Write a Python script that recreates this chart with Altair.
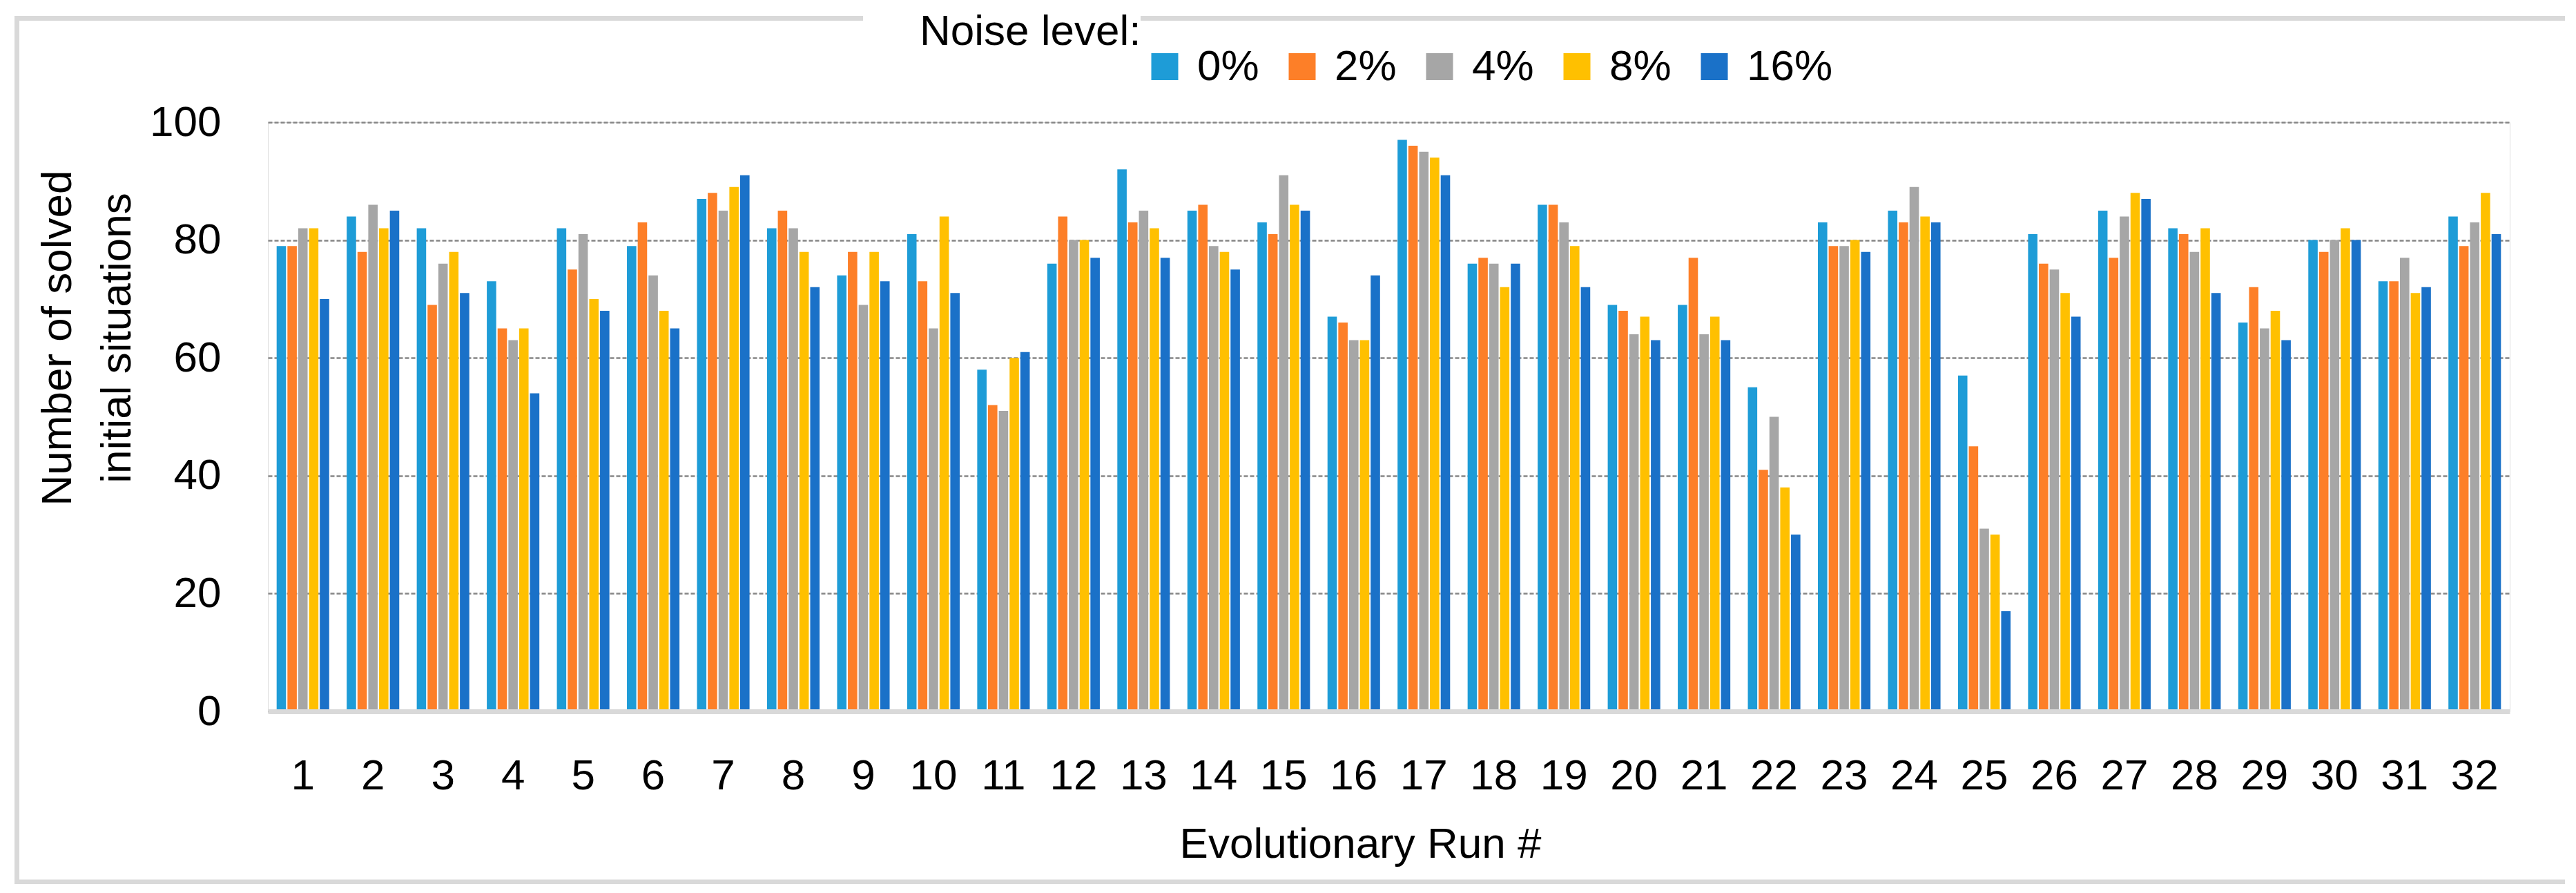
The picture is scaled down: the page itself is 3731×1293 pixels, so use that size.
import altair as alt
import pandas as pd

runs = list(range(1, 33))
noise_levels = ["0%", "2%", "4%", "8%", "16%"]
n0 = [79, 84, 82, 73, 82, 79, 87, 82, 74, 81, 58, 76, 92, 85, 83, 67, 97, 76, 86, 69, 69, 55, 83, 85, 57, 81, 85, 82, 66, 80, 73, 84]
n2 = [79, 78, 69, 65, 75, 83, 88, 85, 78, 73, 52, 84, 83, 86, 81, 66, 96, 77, 86, 68, 77, 41, 79, 83, 45, 76, 77, 81, 72, 78, 73, 79]
n4 = [82, 86, 76, 63, 81, 74, 85, 82, 69, 65, 51, 80, 85, 79, 91, 63, 95, 76, 83, 64, 64, 50, 79, 89, 31, 75, 84, 78, 65, 80, 77, 83]
n8 = [82, 82, 78, 65, 70, 68, 89, 78, 78, 84, 60, 80, 82, 78, 86, 63, 94, 72, 79, 67, 67, 38, 80, 84, 30, 71, 88, 82, 68, 82, 71, 88]
n16 = [70, 85, 71, 54, 68, 65, 91, 72, 73, 71, 61, 77, 77, 75, 85, 74, 91, 76, 72, 63, 63, 30, 78, 83, 17, 67, 87, 71, 63, 80, 72, 81]
colors = ["#1E9CD7", "#FD7F28", "#A6A6A6", "#FFC000", "#1A71C8"]
legend_title = "Noise level:"

series = [n0, n2, n4, n8, n16]
rows = []
for lvl, vals in zip(noise_levels, series):
    for r, v in zip(runs, vals):
        rows.append({"run": r, "noise": lvl, "value": v})
df = pd.DataFrame(rows)

FONT = "Liberation Sans, Arial, sans-serif"
FS = 62
W, H = 3247, 853

bars = alt.Chart(df).mark_bar().encode(
    x=alt.X("run:O", title="Evolutionary Run #",
            scale=alt.Scale(paddingInner=0.25, paddingOuter=0.125),
            axis=alt.Axis(labelAngle=0, labelFontSize=FS, labelFont=FONT, labelColor="#000000",
                          labelBaseline="alphabetic", labelPadding=112, ticks=False, tickSize=0,
                          domainColor="#D9D9D9", domainWidth=7, zindex=1,
                          titleFontSize=FS, titleFont=FONT, titleFontWeight="normal", titleColor="#000000",
                          titleX=1582, titleY=211, titleBaseline="alphabetic", titleAlign="center")),
    xOffset=alt.XOffset("noise:N", sort=noise_levels, scale=alt.Scale(paddingInner=0.13)),
    y=alt.Y("value:Q", title=["Number of solved", "initial situations"],
            scale=alt.Scale(domain=[0, 100], nice=False),
            axis=alt.Axis(values=[0, 20, 40, 60, 80, 100], labelFontSize=FS, labelFont=FONT,
                          labelColor="#000000", labelPadding=68, ticks=False, tickSize=0, domain=False,
                          grid=True, gridColor="#868686", gridDash=[6, 3], gridWidth=2.5,
                          titleFontSize=FS, titleFont=FONT, titleFontWeight="normal", titleColor="#000000",
                          titleAngle=270, titleX=-286, titleY=312, titleAlign="center",
                          titleBaseline="alphabetic", titleLineHeight=86)),
    color=alt.Color("noise:N", sort=noise_levels,
                    scale=alt.Scale(domain=noise_levels, range=colors),
                    legend=alt.Legend(title=None, orient="none", direction="horizontal",
                                      legendX=1268, legendY=-111.5,
                                      labelFontSize=FS, labelFont=FONT, labelColor="#000000",
                                      labelOffset=16, symbolType="square", symbolSize=1521,
                                      symbolStrokeWidth=0, symbolOpacity=1, columnPadding=31,
                                      padding=0)),
)

one = alt.Data(values=[{"t": legend_title}])
title_text = alt.Chart(one).mark_text(
    align="left", baseline="alphabetic", fontSize=FS, font=FONT, color="#000000"
).encode(x=alt.value(944), y=alt.value(-112), text="t:N")

BC = "#D9D9D9"
BW = 7
border_left = alt.Chart(one).mark_rule(color=BC, strokeWidth=BW).encode(
    x=alt.value(-363.5), y=alt.value(-154), y2=alt.value(1103.5))
border_right = alt.Chart(one).mark_rule(color=BC, strokeWidth=BW).encode(
    x=alt.value(3336), y=alt.value(-154), y2=alt.value(1103.5))
border_bottom = alt.Chart(one).mark_rule(color=BC, strokeWidth=BW).encode(
    x=alt.value(-367), x2=alt.value(3339.5), y=alt.value(1100))
border_top1 = alt.Chart(one).mark_rule(color=BC, strokeWidth=BW).encode(
    x=alt.value(-367), x2=alt.value(862), y=alt.value(-150.5))
border_top2 = alt.Chart(one).mark_rule(color=BC, strokeWidth=BW).encode(
    x=alt.value(1264), x2=alt.value(3339.5), y=alt.value(-150.5))

chart = alt.layer(border_left, border_right, border_bottom, border_top1, border_top2,
                  title_text, bars).properties(
    width=W, height=H,
    autosize=alt.AutoSizeParams(type="none"),
    padding={"left": 380, "top": 169, "right": 80, "bottom": 250},
).configure_view(stroke=None).configure(background="white")

chart.save("out.html", embed_options={"renderer": "svg", "actions": False})
